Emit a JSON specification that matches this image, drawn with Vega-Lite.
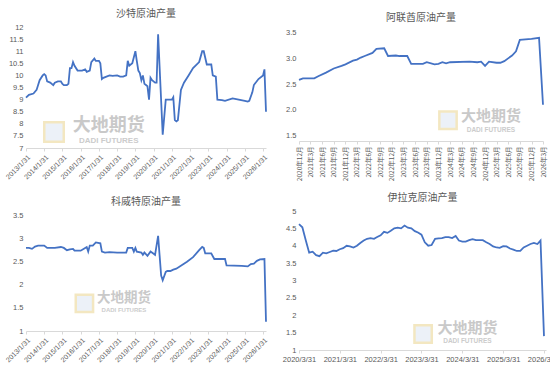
{
  "$schema": "https://vega.github.io/schema/vega-lite/v6.json",
  "padding": {"left": 3, "top": 8, "right": 0, "bottom": 0},
  "bounds": "flush",
  "columns": 2,
  "spacing": {"row": 63, "column": 33},
  "config": {
    "view": {"stroke": null},
    "axis": {"labelColor": "#595959", "labelFont": "Liberation Sans", "labelFontSize": 7, "grid": false, "title": null, "labelOverlap": false, "tickCount": 100},
    "axisX": {"domainColor": "#d9d9d9", "tickColor": "#d9d9d9", "tickSize": 3, "labelPadding": 2, "labelOverlap": false, "labelFlush": false},
    "axisY": {"domain": false, "ticks": false, "labelPadding": 3, "labelFontSize": 7.5, "labelOverlap": false},
    "title": {"font": "Noto Sans CJK SC", "fontSize": 10, "fontWeight": "normal", "color": "#595959", "offset": 4.5},
    "line": {"color": "#4472C4", "strokeWidth": 1.8}
  },
  "datasets": {
    "saudi": [
      {"d": "2013-01-31", "v": 9.08}, {"d": "2013-03-31", "v": 9.2}, {"d": "2013-06-30", "v": 9.25}, {"d": "2013-08-31", "v": 9.4},
      {"d": "2013-10-31", "v": 9.8}, {"d": "2013-12-31", "v": 10.0}, {"d": "2014-01-31", "v": 10.05}, {"d": "2014-02-28", "v": 10.0},
      {"d": "2014-03-31", "v": 9.75}, {"d": "2014-05-31", "v": 9.7}, {"d": "2014-07-31", "v": 9.6}, {"d": "2014-08-31", "v": 9.7},
      {"d": "2014-10-31", "v": 9.75}, {"d": "2014-12-31", "v": 9.75}, {"d": "2015-01-31", "v": 9.65}, {"d": "2015-02-28", "v": 9.6},
      {"d": "2015-04-30", "v": 9.6}, {"d": "2015-05-31", "v": 9.65}, {"d": "2015-06-30", "v": 10.3}, {"d": "2015-07-31", "v": 10.3},
      {"d": "2015-08-31", "v": 10.55}, {"d": "2015-09-30", "v": 10.4}, {"d": "2015-11-30", "v": 10.2}, {"d": "2016-02-29", "v": 10.2},
      {"d": "2016-04-30", "v": 10.25}, {"d": "2016-05-31", "v": 10.15}, {"d": "2016-07-31", "v": 10.2}, {"d": "2016-08-31", "v": 10.55},
      {"d": "2016-10-31", "v": 10.7}, {"d": "2016-11-30", "v": 10.6}, {"d": "2017-01-31", "v": 10.6}, {"d": "2017-02-28", "v": 10.5},
      {"d": "2017-03-31", "v": 9.85}, {"d": "2017-04-30", "v": 9.9}, {"d": "2017-06-30", "v": 9.95}, {"d": "2017-08-31", "v": 10.0},
      {"d": "2017-10-31", "v": 9.98}, {"d": "2018-01-31", "v": 10.0}, {"d": "2018-03-31", "v": 9.95}, {"d": "2018-05-31", "v": 9.95},
      {"d": "2018-07-31", "v": 10.0}, {"d": "2018-08-31", "v": 10.6}, {"d": "2018-09-30", "v": 10.4}, {"d": "2018-11-30", "v": 10.5},
      {"d": "2019-01-31", "v": 11.0}, {"d": "2019-02-28", "v": 10.6}, {"d": "2019-03-31", "v": 10.2}, {"d": "2019-04-30", "v": 10.1},
      {"d": "2019-05-31", "v": 9.8}, {"d": "2019-06-30", "v": 10.0}, {"d": "2019-07-31", "v": 9.65}, {"d": "2019-08-31", "v": 9.6},
      {"d": "2019-09-30", "v": 9.55}, {"d": "2019-10-31", "v": 9.0}, {"d": "2019-11-30", "v": 9.9}, {"d": "2019-12-31", "v": 9.8},
      {"d": "2020-02-29", "v": 9.7}, {"d": "2020-03-31", "v": 9.7}, {"d": "2020-04-30", "v": 11.7}, {"d": "2020-07-31", "v": 7.55},
      {"d": "2020-09-30", "v": 9.0}, {"d": "2021-01-31", "v": 9.0}, {"d": "2021-02-28", "v": 9.1}, {"d": "2021-03-31", "v": 8.15},
      {"d": "2021-04-30", "v": 8.1}, {"d": "2021-05-31", "v": 8.15}, {"d": "2021-07-31", "v": 9.4}, {"d": "2021-09-30", "v": 9.7},
      {"d": "2021-12-31", "v": 10.0}, {"d": "2022-03-31", "v": 10.3}, {"d": "2022-07-31", "v": 10.55}, {"d": "2022-09-30", "v": 11.0},
      {"d": "2022-10-31", "v": 11.0}, {"d": "2022-12-31", "v": 10.45}, {"d": "2023-03-31", "v": 10.45}, {"d": "2023-04-30", "v": 10.0},
      {"d": "2023-06-30", "v": 9.95}, {"d": "2023-07-31", "v": 9.0}, {"d": "2023-10-31", "v": 8.98}, {"d": "2023-12-31", "v": 8.95},
      {"d": "2024-05-31", "v": 9.05}, {"d": "2024-09-30", "v": 9.0}, {"d": "2025-01-31", "v": 8.95}, {"d": "2025-03-31", "v": 8.92},
      {"d": "2025-04-30", "v": 8.95}, {"d": "2025-06-30", "v": 9.3}, {"d": "2025-07-31", "v": 9.6}, {"d": "2025-10-31", "v": 9.85},
      {"d": "2026-01-31", "v": 10.0}, {"d": "2026-02-28", "v": 10.25}, {"d": "2026-03-31", "v": 8.5}
    ],
    "uae": [
      {"d": "2020-12-31", "v": 2.58}, {"d": "2021-01-31", "v": 2.61}, {"d": "2021-04-30", "v": 2.61}, {"d": "2021-05-31", "v": 2.65},
      {"d": "2021-07-31", "v": 2.72}, {"d": "2021-09-30", "v": 2.8}, {"d": "2021-11-30", "v": 2.85}, {"d": "2021-12-31", "v": 2.88},
      {"d": "2022-02-28", "v": 2.95}, {"d": "2022-03-31", "v": 2.97}, {"d": "2022-04-30", "v": 3.01}, {"d": "2022-05-31", "v": 3.04},
      {"d": "2022-07-31", "v": 3.1}, {"d": "2022-08-31", "v": 3.18}, {"d": "2022-10-31", "v": 3.19}, {"d": "2022-11-30", "v": 3.04},
      {"d": "2023-01-31", "v": 3.05}, {"d": "2023-02-28", "v": 3.04}, {"d": "2023-04-30", "v": 3.04}, {"d": "2023-05-31", "v": 2.89},
      {"d": "2023-08-31", "v": 2.89}, {"d": "2023-09-30", "v": 2.92}, {"d": "2023-11-30", "v": 2.88}, {"d": "2023-12-31", "v": 2.89},
      {"d": "2024-01-31", "v": 2.92}, {"d": "2024-02-29", "v": 2.9}, {"d": "2024-03-31", "v": 2.92}, {"d": "2024-08-31", "v": 2.93},
      {"d": "2024-10-31", "v": 2.92}, {"d": "2024-11-30", "v": 2.93}, {"d": "2024-12-31", "v": 2.85}, {"d": "2025-01-31", "v": 2.93},
      {"d": "2025-03-31", "v": 2.91}, {"d": "2025-04-30", "v": 2.91}, {"d": "2025-05-31", "v": 2.94}, {"d": "2025-07-31", "v": 3.05},
      {"d": "2025-08-31", "v": 3.13}, {"d": "2025-09-30", "v": 3.35}, {"d": "2025-12-31", "v": 3.37}, {"d": "2026-02-28", "v": 3.39},
      {"d": "2026-03-31", "v": 2.1}
    ],
    "kuwait": [
      {"d": "2013-01-31", "v": 2.8}, {"d": "2013-03-31", "v": 2.8}, {"d": "2013-05-31", "v": 2.78}, {"d": "2013-07-31", "v": 2.83},
      {"d": "2013-09-30", "v": 2.85}, {"d": "2014-01-31", "v": 2.85}, {"d": "2014-03-31", "v": 2.8}, {"d": "2014-08-31", "v": 2.8},
      {"d": "2014-12-31", "v": 2.82}, {"d": "2015-02-28", "v": 2.8}, {"d": "2015-04-30", "v": 2.75}, {"d": "2015-06-30", "v": 2.77},
      {"d": "2015-08-31", "v": 2.78}, {"d": "2015-09-30", "v": 2.74}, {"d": "2016-01-31", "v": 2.74}, {"d": "2016-04-30", "v": 2.8},
      {"d": "2016-05-31", "v": 2.82}, {"d": "2016-06-30", "v": 2.72}, {"d": "2016-07-31", "v": 2.85}, {"d": "2016-09-30", "v": 2.85},
      {"d": "2016-11-30", "v": 2.92}, {"d": "2017-02-28", "v": 2.9}, {"d": "2017-03-31", "v": 2.72}, {"d": "2017-05-31", "v": 2.7},
      {"d": "2017-08-31", "v": 2.71}, {"d": "2018-01-31", "v": 2.7}, {"d": "2018-07-31", "v": 2.7}, {"d": "2018-08-31", "v": 2.8},
      {"d": "2018-11-30", "v": 2.8}, {"d": "2018-12-31", "v": 2.72}, {"d": "2019-01-31", "v": 2.8}, {"d": "2019-02-28", "v": 2.72},
      {"d": "2019-05-31", "v": 2.7}, {"d": "2019-06-30", "v": 2.65}, {"d": "2019-07-31", "v": 2.7}, {"d": "2019-09-30", "v": 2.63},
      {"d": "2019-11-30", "v": 2.72}, {"d": "2020-02-29", "v": 2.65}, {"d": "2020-04-30", "v": 3.06}, {"d": "2020-06-30", "v": 2.2},
      {"d": "2020-07-31", "v": 2.1}, {"d": "2020-09-30", "v": 2.28}, {"d": "2020-10-31", "v": 2.3}, {"d": "2020-12-31", "v": 2.3},
      {"d": "2021-02-28", "v": 2.33}, {"d": "2021-04-30", "v": 2.35}, {"d": "2021-11-30", "v": 2.5}, {"d": "2022-03-31", "v": 2.6},
      {"d": "2022-07-31", "v": 2.75}, {"d": "2022-09-30", "v": 2.82}, {"d": "2022-10-31", "v": 2.8}, {"d": "2022-11-30", "v": 2.68},
      {"d": "2023-03-31", "v": 2.68}, {"d": "2023-05-31", "v": 2.56}, {"d": "2023-12-31", "v": 2.56}, {"d": "2024-01-31", "v": 2.42},
      {"d": "2024-11-30", "v": 2.41}, {"d": "2025-03-31", "v": 2.4}, {"d": "2025-05-31", "v": 2.45}, {"d": "2025-07-31", "v": 2.46},
      {"d": "2025-09-30", "v": 2.52}, {"d": "2025-11-30", "v": 2.55}, {"d": "2026-02-28", "v": 2.56}, {"d": "2026-03-31", "v": 1.2}
    ],
    "iraq": [
      {"d": "2020-03-31", "v": 4.62}, {"d": "2020-04-30", "v": 4.53}, {"d": "2020-05-31", "v": 4.15}, {"d": "2020-06-30", "v": 3.8},
      {"d": "2020-07-31", "v": 3.83}, {"d": "2020-08-31", "v": 3.73}, {"d": "2020-09-30", "v": 3.7}, {"d": "2020-10-31", "v": 3.8},
      {"d": "2020-11-30", "v": 3.78}, {"d": "2020-12-31", "v": 3.82}, {"d": "2021-01-31", "v": 3.86}, {"d": "2021-02-28", "v": 3.85},
      {"d": "2021-03-31", "v": 3.9}, {"d": "2021-04-30", "v": 3.93}, {"d": "2021-05-31", "v": 4.0}, {"d": "2021-06-30", "v": 3.98},
      {"d": "2021-07-31", "v": 3.95}, {"d": "2021-08-31", "v": 4.0}, {"d": "2021-09-30", "v": 4.08}, {"d": "2021-10-31", "v": 4.15},
      {"d": "2021-11-30", "v": 4.2}, {"d": "2021-12-31", "v": 4.22}, {"d": "2022-01-31", "v": 4.2}, {"d": "2022-02-28", "v": 4.25},
      {"d": "2022-03-31", "v": 4.3}, {"d": "2022-04-30", "v": 4.4}, {"d": "2022-05-31", "v": 4.37}, {"d": "2022-06-30", "v": 4.43},
      {"d": "2022-07-31", "v": 4.5}, {"d": "2022-08-31", "v": 4.52}, {"d": "2022-09-30", "v": 4.5}, {"d": "2022-10-31", "v": 4.58},
      {"d": "2022-11-30", "v": 4.52}, {"d": "2022-12-31", "v": 4.5}, {"d": "2023-01-31", "v": 4.42}, {"d": "2023-02-28", "v": 4.38},
      {"d": "2023-03-31", "v": 4.32}, {"d": "2023-04-30", "v": 4.1}, {"d": "2023-05-31", "v": 4.0}, {"d": "2023-06-30", "v": 4.02},
      {"d": "2023-07-31", "v": 4.2}, {"d": "2023-08-31", "v": 4.21}, {"d": "2023-09-30", "v": 4.22}, {"d": "2023-10-31", "v": 4.25},
      {"d": "2023-11-30", "v": 4.25}, {"d": "2023-12-31", "v": 4.22}, {"d": "2024-01-31", "v": 4.28}, {"d": "2024-02-29", "v": 4.15},
      {"d": "2024-03-31", "v": 4.12}, {"d": "2024-04-30", "v": 4.12}, {"d": "2024-05-31", "v": 4.16}, {"d": "2024-06-30", "v": 4.19},
      {"d": "2024-07-31", "v": 4.16}, {"d": "2024-08-31", "v": 4.16}, {"d": "2024-09-30", "v": 4.16}, {"d": "2024-10-31", "v": 4.1},
      {"d": "2024-11-30", "v": 4.05}, {"d": "2024-12-31", "v": 3.98}, {"d": "2025-01-31", "v": 3.95}, {"d": "2025-02-28", "v": 3.94},
      {"d": "2025-03-31", "v": 3.99}, {"d": "2025-04-30", "v": 3.98}, {"d": "2025-05-31", "v": 3.92}, {"d": "2025-06-30", "v": 3.89},
      {"d": "2025-07-31", "v": 3.85}, {"d": "2025-08-31", "v": 3.85}, {"d": "2025-09-30", "v": 3.95}, {"d": "2025-10-31", "v": 4.0},
      {"d": "2025-11-30", "v": 4.05}, {"d": "2025-12-31", "v": 4.08}, {"d": "2026-01-31", "v": 4.05}, {"d": "2026-02-28", "v": 4.15},
      {"d": "2026-03-31", "v": 1.4}
    ],
    "mark1": [{"t": "大地期货"}],
    "mark2": [{"t": "DADI FUTURES"}],
    "logo": [{"t": "logo"}]
  },
  "concat": [
    {
      "width": 240, "height": 121,
      "title": "沙特原油产量",
      "layer": [
        {
          "data": {"name": "saudi"},
          "mark": {"type": "line"},
          "encoding": {
            "x": {"field": "d", "type": "temporal", "title": null,
              "scale": {"type": "utc", "domain": [{"year": 2013, "month": 1, "date": 31, "utc": true}, {"year": 2026, "month": 3, "date": 31, "utc": true}]},
              "axis": {"format": "%Y/%-m/%-d", "labelAngle": -45, "labelOverlap": false, "tickCount": 100,
                "values": [{"year": 2013, "month": 1, "date": 31, "utc": true}, {"year": 2014, "month": 1, "date": 31, "utc": true}, {"year": 2015, "month": 1, "date": 31, "utc": true}, {"year": 2016, "month": 1, "date": 31, "utc": true}, {"year": 2017, "month": 1, "date": 31, "utc": true}, {"year": 2018, "month": 1, "date": 31, "utc": true}, {"year": 2019, "month": 1, "date": 31, "utc": true}, {"year": 2020, "month": 1, "date": 31, "utc": true}, {"year": 2021, "month": 1, "date": 31, "utc": true}, {"year": 2022, "month": 1, "date": 31, "utc": true}, {"year": 2023, "month": 1, "date": 31, "utc": true}, {"year": 2024, "month": 1, "date": 31, "utc": true}, {"year": 2025, "month": 1, "date": 31, "utc": true}, {"year": 2026, "month": 1, "date": 31, "utc": true}]}},
            "y": {"field": "v", "type": "quantitative", "title": null, "scale": {"domain": [7, 12]},
              "axis": {"values": [7, 7.5, 8, 8.5, 9, 9.5, 10, 10.5, 11, 11.5, 12], "format": ".1~f", "labelOverlap": false, "tickCount": 100}}
          }
        },
        {
          "data": {"name": "logo"},
          "mark": {"type": "point", "shape": "square", "size": 380, "filled": true, "fill": "#e4ecf6", "stroke": "#efdea8", "strokeWidth": 2.5},
          "encoding": {"x": {"datum": {"year": 2014, "month": 8, "date": 15, "utc": true}, "type": "temporal"}, "y": {"datum": 7.66, "type": "quantitative"}}
        },
        {
          "data": {"name": "mark1"},
          "mark": {"type": "text", "font": "Noto Sans CJK SC", "fontWeight": "bold", "fontSize": 18, "color": "#c9c9c9", "align": "center", "baseline": "middle"},
          "encoding": {"x": {"datum": {"year": 2017, "month": 8, "date": 15, "utc": true}, "type": "temporal"}, "y": {"datum": 7.9, "type": "quantitative"}, "text": {"field": "t"}}
        },
        {
          "data": {"name": "mark2"},
          "mark": {"type": "text", "font": "Liberation Sans", "fontWeight": "bold", "fontSize": 8, "color": "#cccccc", "align": "center", "baseline": "middle"},
          "encoding": {"x": {"datum": {"year": 2017, "month": 8, "date": 15, "utc": true}, "type": "temporal"}, "y": {"datum": 7.27, "type": "quantitative"}, "text": {"field": "t"}}
        }
      ]
    },
    {
      "width": 244, "height": 114,
      "title": "阿联酋原油产量",
      "layer": [
        {
          "data": {"name": "uae"},
          "mark": {"type": "line"},
          "encoding": {
            "x": {"field": "d", "type": "temporal", "title": null,
              "scale": {"type": "utc", "domain": [{"year": 2020, "month": 12, "date": 31, "utc": true}, {"year": 2026, "month": 3, "date": 31, "utc": true}]},
              "axis": {"format": "%Y年%-m月", "labelAngle": -90, "labelFont": "Noto Sans CJK SC", "labelFontSize": 6.5, "labelOverlap": false, "tickCount": 100,
                "values": [{"year": 2020, "month": 12, "date": 31, "utc": true}, {"year": 2021, "month": 3, "date": 31, "utc": true}, {"year": 2021, "month": 6, "date": 30, "utc": true}, {"year": 2021, "month": 9, "date": 30, "utc": true}, {"year": 2021, "month": 12, "date": 31, "utc": true}, {"year": 2022, "month": 3, "date": 31, "utc": true}, {"year": 2022, "month": 6, "date": 30, "utc": true}, {"year": 2022, "month": 9, "date": 30, "utc": true}, {"year": 2022, "month": 12, "date": 31, "utc": true}, {"year": 2023, "month": 3, "date": 31, "utc": true}, {"year": 2023, "month": 6, "date": 30, "utc": true}, {"year": 2023, "month": 9, "date": 30, "utc": true}, {"year": 2023, "month": 12, "date": 31, "utc": true}, {"year": 2024, "month": 3, "date": 31, "utc": true}, {"year": 2024, "month": 6, "date": 30, "utc": true}, {"year": 2024, "month": 9, "date": 30, "utc": true}, {"year": 2024, "month": 12, "date": 31, "utc": true}, {"year": 2025, "month": 3, "date": 31, "utc": true}, {"year": 2025, "month": 6, "date": 30, "utc": true}, {"year": 2025, "month": 9, "date": 30, "utc": true}, {"year": 2025, "month": 12, "date": 31, "utc": true}, {"year": 2026, "month": 3, "date": 31, "utc": true}]}},
            "y": {"field": "v", "type": "quantitative", "title": null, "scale": {"domain": [1.5, 3.5]},
              "axis": {"values": [1.5, 2, 2.5, 3, 3.5], "format": ".1f", "labelOverlap": false, "tickCount": 100}}
          }
        },
        {
          "data": {"name": "logo"},
          "mark": {"type": "point", "shape": "square", "size": 300, "filled": true, "fill": "#e4ecf6", "stroke": "#efdea8", "strokeWidth": 2.5},
          "encoding": {"x": {"datum": {"year": 2024, "month": 3, "date": 15, "utc": true}, "type": "temporal"}, "y": {"datum": 1.8, "type": "quantitative"}}
        },
        {
          "data": {"name": "mark1"},
          "mark": {"type": "text", "font": "Noto Sans CJK SC", "fontWeight": "bold", "fontSize": 15, "color": "#c9c9c9", "align": "center", "baseline": "middle"},
          "encoding": {"x": {"datum": {"year": 2025, "month": 2, "date": 15, "utc": true}, "type": "temporal"}, "y": {"datum": 1.88, "type": "quantitative"}, "text": {"field": "t"}}
        },
        {
          "data": {"name": "mark2"},
          "mark": {"type": "text", "font": "Liberation Sans", "fontWeight": "bold", "fontSize": 6.5, "color": "#cccccc", "align": "center", "baseline": "middle"},
          "encoding": {"x": {"datum": {"year": 2025, "month": 2, "date": 15, "utc": true}, "type": "temporal"}, "y": {"datum": 1.61, "type": "quantitative"}, "text": {"field": "t"}}
        }
      ]
    },
    {
      "width": 240, "height": 120,
      "title": "科威特原油产量",
      "layer": [
        {
          "data": {"name": "kuwait"},
          "mark": {"type": "line"},
          "encoding": {
            "x": {"field": "d", "type": "temporal", "title": null,
              "scale": {"type": "utc", "domain": [{"year": 2013, "month": 1, "date": 31, "utc": true}, {"year": 2026, "month": 3, "date": 31, "utc": true}]},
              "axis": {"format": "%Y/%-m/%-d", "labelAngle": -45, "labelOverlap": false, "tickCount": 100,
                "values": [{"year": 2013, "month": 1, "date": 31, "utc": true}, {"year": 2014, "month": 1, "date": 31, "utc": true}, {"year": 2015, "month": 1, "date": 31, "utc": true}, {"year": 2016, "month": 1, "date": 31, "utc": true}, {"year": 2017, "month": 1, "date": 31, "utc": true}, {"year": 2018, "month": 1, "date": 31, "utc": true}, {"year": 2019, "month": 1, "date": 31, "utc": true}, {"year": 2020, "month": 1, "date": 31, "utc": true}, {"year": 2021, "month": 1, "date": 31, "utc": true}, {"year": 2022, "month": 1, "date": 31, "utc": true}, {"year": 2023, "month": 1, "date": 31, "utc": true}, {"year": 2024, "month": 1, "date": 31, "utc": true}, {"year": 2025, "month": 1, "date": 31, "utc": true}, {"year": 2026, "month": 1, "date": 31, "utc": true}]}},
            "y": {"field": "v", "type": "quantitative", "title": null, "scale": {"domain": [1, 3.5]},
              "axis": {"values": [1, 1.5, 2, 2.5, 3, 3.5], "format": ".1~f", "labelOverlap": false, "tickCount": 100}}
          }
        },
        {
          "data": {"name": "logo"},
          "mark": {"type": "point", "shape": "square", "size": 300, "filled": true, "fill": "#e4ecf6", "stroke": "#efdea8", "strokeWidth": 2.5},
          "encoding": {"x": {"datum": {"year": 2016, "month": 4, "date": 15, "utc": true}, "type": "temporal"}, "y": {"datum": 1.6, "type": "quantitative"}}
        },
        {
          "data": {"name": "mark1"},
          "mark": {"type": "text", "font": "Noto Sans CJK SC", "fontWeight": "bold", "fontSize": 13.5, "color": "#c9c9c9", "align": "center", "baseline": "middle"},
          "encoding": {"x": {"datum": {"year": 2018, "month": 6, "date": 15, "utc": true}, "type": "temporal"}, "y": {"datum": 1.71, "type": "quantitative"}, "text": {"field": "t"}}
        },
        {
          "data": {"name": "mark2"},
          "mark": {"type": "text", "font": "Liberation Sans", "fontWeight": "bold", "fontSize": 6, "color": "#cccccc", "align": "center", "baseline": "middle"},
          "encoding": {"x": {"datum": {"year": 2018, "month": 6, "date": 15, "utc": true}, "type": "temporal"}, "y": {"datum": 1.46, "type": "quantitative"}, "text": {"field": "t"}}
        }
      ]
    },
    {
      "width": 247, "height": 139,
      "title": "伊拉克原油产量",
      "layer": [
        {
          "data": {"name": "iraq"},
          "mark": {"type": "line"},
          "encoding": {
            "x": {"field": "d", "type": "temporal", "title": null,
              "scale": {"type": "utc", "domain": [{"year": 2020, "month": 3, "date": 31, "utc": true}, {"year": 2026, "month": 4, "date": 18, "utc": true}]},
              "axis": {"format": "%Y/%-m/%-d", "labelAngle": 0, "labelFontSize": 7.5, "labelOverlap": false, "tickCount": 100,
                "values": [{"year": 2020, "month": 3, "date": 31, "utc": true}, {"year": 2021, "month": 3, "date": 31, "utc": true}, {"year": 2022, "month": 3, "date": 31, "utc": true}, {"year": 2023, "month": 3, "date": 31, "utc": true}, {"year": 2024, "month": 3, "date": 31, "utc": true}, {"year": 2025, "month": 3, "date": 31, "utc": true}, {"year": 2026, "month": 3, "date": 31, "utc": true}]}},
            "y": {"field": "v", "type": "quantitative", "title": null, "scale": {"domain": [1, 5]},
              "axis": {"values": [1, 1.5, 2, 2.5, 3, 3.5, 4, 4.5, 5], "format": ".1~f", "labelOverlap": false, "tickCount": 100}}
          }
        },
        {
          "data": {"name": "logo"},
          "mark": {"type": "point", "shape": "square", "size": 300, "filled": true, "fill": "#e4ecf6", "stroke": "#efdea8", "strokeWidth": 2.5},
          "encoding": {"x": {"datum": {"year": 2023, "month": 4, "date": 15, "utc": true}, "type": "temporal"}, "y": {"datum": 1.46, "type": "quantitative"}}
        },
        {
          "data": {"name": "mark1"},
          "mark": {"type": "text", "font": "Noto Sans CJK SC", "fontWeight": "bold", "fontSize": 15, "color": "#c9c9c9", "align": "center", "baseline": "middle"},
          "encoding": {"x": {"datum": {"year": 2024, "month": 5, "date": 15, "utc": true}, "type": "temporal"}, "y": {"datum": 1.62, "type": "quantitative"}, "text": {"field": "t"}}
        },
        {
          "data": {"name": "mark2"},
          "mark": {"type": "text", "font": "Liberation Sans", "fontWeight": "bold", "fontSize": 6.5, "color": "#cccccc", "align": "center", "baseline": "middle"},
          "encoding": {"x": {"datum": {"year": 2024, "month": 5, "date": 15, "utc": true}, "type": "temporal"}, "y": {"datum": 1.26, "type": "quantitative"}, "text": {"field": "t"}}
        }
      ]
    }
  ]
}
